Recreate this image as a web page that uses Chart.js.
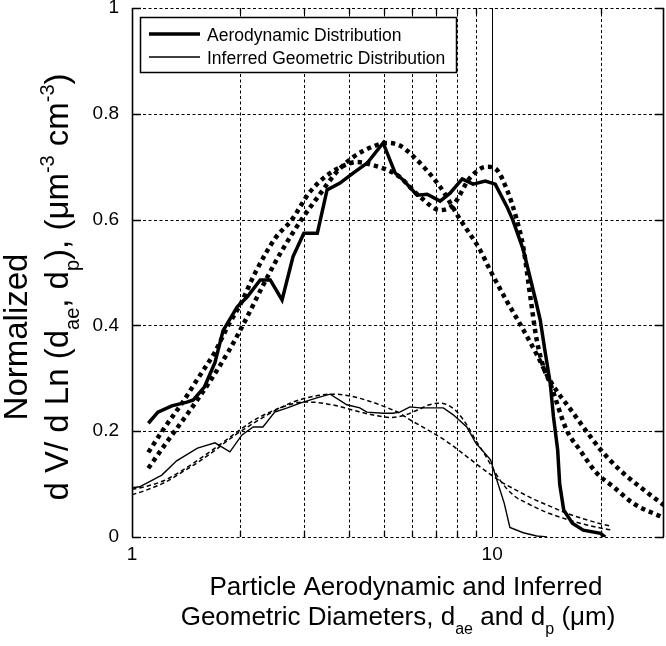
<!DOCTYPE html>
<html>
<head>
<meta charset="utf-8">
<script src="https://cdn.jsdelivr.net/npm/chart.js@4.4.1/dist/chart.umd.min.js"></script>
<style>
  html, body { margin: 0; padding: 0; background: #fff; }
</style>
</head>
<body>
<canvas id="chart" width="666" height="646"></canvas>
<script>
// measured aerodynamic distribution (thick solid)
const aeroX = [1.11, 1.18, 1.29, 1.42, 1.48, 1.59, 1.70, 1.79, 1.96, 2.09, 2.27, 2.42, 2.61, 2.80, 3.00, 3.27, 3.48, 3.78, 4.11, 4.50, 4.98, 5.38, 5.66, 6.19, 6.60, 7.17, 7.64, 8.26, 8.85, 9.57, 10.2, 11.0, 11.4, 12.2, 13.2, 13.6, 14.0, 14.5, 14.8, 15.2, 15.4, 15.8, 16.7, 17.9, 20.0, 20.6];
const aeroY = [0.215, 0.236, 0.248, 0.255, 0.259, 0.284, 0.33, 0.39, 0.435, 0.454, 0.486, 0.486, 0.448, 0.53, 0.574, 0.574, 0.656, 0.669, 0.688, 0.707, 0.745, 0.688, 0.675, 0.646, 0.648, 0.635, 0.65, 0.677, 0.667, 0.673, 0.667, 0.624, 0.60, 0.543, 0.448, 0.41, 0.354, 0.29, 0.227, 0.165, 0.10, 0.051, 0.026, 0.013, 0.007, 0.0];

// inferred geometric distribution (thin solid)
const geoX = [1.0, 1.05, 1.21, 1.33, 1.52, 1.70, 1.87, 2.02, 2.17, 2.31, 2.49, 2.70, 2.93, 3.26, 3.55, 3.95, 4.29, 4.49, 4.98, 5.30, 5.54, 5.91, 6.31, 7.32, 7.80, 8.50, 9.00, 9.90, 10.3, 10.8, 11.2, 12.2, 13.3, 14.2];
const geoY = [0.093, 0.095, 0.117, 0.144, 0.168, 0.178, 0.161, 0.193, 0.208, 0.208, 0.236, 0.244, 0.253, 0.263, 0.270, 0.250, 0.244, 0.236, 0.234, 0.234, 0.236, 0.246, 0.244, 0.244, 0.231, 0.208, 0.178, 0.146, 0.108, 0.064, 0.018, 0.008, 0.002, 0.0];

// aerodynamic fits (thick dotted): single mode and bimodal
const aeroFit1X = [1.11, 1.26, 1.43, 1.63, 1.85, 2.03, 2.37, 2.6, 2.99, 3.3, 3.7, 4.11, 4.66, 5.1, 5.54, 6.03, 7.17, 8.15, 9.25, 9.86, 11.0, 11.9, 13.3, 14.5, 16.8, 18.4, 20.0, 22.6, 25.7, 30.0];
const aeroFit1Y = [0.13, 0.183, 0.234, 0.29, 0.35, 0.40, 0.49, 0.54, 0.605, 0.645, 0.69, 0.718, 0.738, 0.745, 0.74, 0.72, 0.662, 0.60, 0.543, 0.505, 0.445, 0.405, 0.345, 0.295, 0.234, 0.197, 0.165, 0.127, 0.095, 0.06];
const aeroFit2X = [1.11, 1.235, 1.377, 1.525, 1.70, 1.85, 2.0, 2.2, 2.5, 2.78, 3.1, 3.5, 3.9, 4.2, 4.66, 5.45, 6.31, 7.17, 7.8, 8.7, 9.7, 10.3, 11.0, 11.7, 12.2, 12.8, 13.3, 13.9, 14.5, 16.1, 17.5, 19.5, 21.7, 24.6, 30.0];
const aeroFit2Y = [0.16, 0.208, 0.253, 0.30, 0.35, 0.40, 0.44, 0.50, 0.565, 0.60, 0.65, 0.685, 0.703, 0.709, 0.703, 0.684, 0.643, 0.618, 0.628, 0.68, 0.70, 0.694, 0.656, 0.60, 0.548, 0.448, 0.372, 0.32, 0.29, 0.202, 0.165, 0.121, 0.095, 0.064, 0.036];

// geometric fits (thin dashed): single mode and bimodal
const geoFit1X = [1.0, 1.1, 1.24, 1.38, 1.53, 1.7, 1.9, 2.15, 2.45, 2.8, 3.2, 3.6, 4.0, 4.5, 5.0, 5.5, 5.9, 6.6, 7.5, 8.5, 9.9, 10.5, 12.0, 13.0, 14.5, 16.1, 18.0, 20.0, 21.5];
const geoFit1Y = [0.08, 0.089, 0.104, 0.123, 0.142, 0.164, 0.189, 0.213, 0.236, 0.255, 0.266, 0.27, 0.267, 0.258, 0.247, 0.235, 0.222, 0.203, 0.18, 0.152, 0.118, 0.106, 0.084, 0.072, 0.058, 0.045, 0.034, 0.025, 0.02];
const geoFit2X = [1.0, 1.1, 1.24, 1.38, 1.53, 1.7, 1.9, 2.15, 2.45, 2.8, 3.0, 3.3, 3.7, 4.2, 4.8, 5.2, 5.7, 6.2, 6.7, 7.1, 7.5, 8.0, 8.5, 9.0, 9.5, 10.0, 10.5, 11.5, 12.5, 14.0, 16.0, 18.0, 20.0, 21.5];
const geoFit2Y = [0.09, 0.096, 0.108, 0.126, 0.146, 0.168, 0.192, 0.218, 0.238, 0.252, 0.255, 0.254, 0.248, 0.238, 0.229, 0.226, 0.23, 0.24, 0.25, 0.253, 0.25, 0.236, 0.212, 0.183, 0.158, 0.132, 0.108, 0.078, 0.064, 0.048, 0.034, 0.024, 0.017, 0.013];

const yTicks = [0, 0.2, 0.4, 0.6, 0.8, 1];
const xLabelTicks = [1, 10];
const xMinorGrid = [2, 3, 4, 5, 6, 7, 8, 9, 20];
const xMajorGrid = [10];

const FONT = "'Liberation Sans', Arial, Helvetica, sans-serif";

const toPoints = (xs, ys) => xs.map((x, i) => ({ x: x, y: ys[i] }));

// draws text made of normal / subscript / superscript pieces, centred on cx
const drawRich = (ctx, parts, cx, baseY, size) => {
    const fontOf = (p) => ((p.sub || p.sup) ? Math.round(size * 0.62) : size) + 'px ' + FONT;
    const widths = parts.map(p => { ctx.font = fontOf(p); return ctx.measureText(p.t).width; });
    let x = cx - widths.reduce((a, b) => a + b, 0) / 2;
    ctx.textAlign = 'left';
    ctx.textBaseline = 'alphabetic';
    parts.forEach((p, i) => {
        ctx.font = fontOf(p);
        const dy = p.sub ? size * 0.33 : (p.sup ? -size * 0.42 : 0);
        ctx.fillText(p.t, x, baseY + dy);
        x += widths[i];
    });
}

const gridPlugin = {
    id: 'gridPlugin',
    beforeDatasetsDraw(chart) {
        const { ctx, chartArea: a, scales: { x, y } } = chart;
        ctx.save();
        ctx.strokeStyle = '#000';
        ctx.lineWidth = 1;
        ctx.setLineDash([3, 2.5]);
        yTicks.forEach(v => {
            const py = Math.round(y.getPixelForValue(v)) + 0.5;
            ctx.beginPath(); ctx.moveTo(a.left, py); ctx.lineTo(a.right, py); ctx.stroke();
        });
        xMinorGrid.forEach(v => {
            const px = Math.round(x.getPixelForValue(v)) + 0.5;
            ctx.beginPath(); ctx.moveTo(px, a.top); ctx.lineTo(px, a.bottom); ctx.stroke();
        });
        ctx.setLineDash([]);
        xMajorGrid.forEach(v => {
            const px = Math.round(x.getPixelForValue(v)) + 0.5;
            ctx.beginPath(); ctx.moveTo(px, a.top); ctx.lineTo(px, a.bottom); ctx.stroke();
        });
        ctx.restore();
    },
    afterDatasetsDraw(chart) {
        const { ctx, chartArea: a, scales: { x, y } } = chart;
        ctx.save();
        ctx.strokeStyle = '#000';
        ctx.lineWidth = 1.3;
        // inner tick marks
        yTicks.forEach(v => {
            const py = Math.round(y.getPixelForValue(v)) + 0.5;
            ctx.beginPath();
            ctx.moveTo(a.left, py); ctx.lineTo(a.left + 9, py);
            ctx.moveTo(a.right, py); ctx.lineTo(a.right - 9, py);
            ctx.stroke();
        });
        xMinorGrid.forEach(v => {
            const px = Math.round(x.getPixelForValue(v)) + 0.5;
            ctx.beginPath();
            ctx.moveTo(px, a.top); ctx.lineTo(px, a.top + 6);
            ctx.moveTo(px, a.bottom); ctx.lineTo(px, a.bottom - 6);
            ctx.stroke();
        });
        // left and right frame
        ctx.lineWidth = 1.6;
        ctx.beginPath();
        ctx.moveTo(a.left + 0.5, a.top); ctx.lineTo(a.left + 0.5, a.bottom);
        ctx.moveTo(a.right - 0.5, a.top); ctx.lineTo(a.right - 0.5, a.bottom);
        ctx.stroke();
        ctx.restore();
    },
    afterDraw(chart) {
        const ctx = chart.ctx;
        ctx.save();
        ctx.fillStyle = '#000';
        ctx.strokeStyle = '#000';

        // legend
        ctx.fillStyle = '#fff';
        ctx.fillRect(140, 17, 317, 56);
        ctx.lineWidth = 1.5;
        ctx.strokeRect(140.5, 17.5, 316, 55);
        ctx.lineWidth = 3.5;
        ctx.beginPath(); ctx.moveTo(149, 34); ctx.lineTo(200, 34); ctx.stroke();
        ctx.lineWidth = 1.4;
        ctx.beginPath(); ctx.moveTo(149, 57); ctx.lineTo(200, 57); ctx.stroke();
        ctx.fillStyle = '#000';
        ctx.font = '17.5px ' + FONT;
        ctx.textAlign = 'left';
        ctx.textBaseline = 'alphabetic';
        ctx.fillText('Aerodynamic Distribution', 207, 41);
        ctx.fillText('Inferred Geometric Distribution', 207, 63.5);

        // x axis title
        drawRich(ctx, [{ t: 'Particle Aerodynamic and Inferred' }], 406, 595, 26);
        drawRich(ctx, [
            { t: 'Geometric Diameters, d' }, { t: 'ae', sub: true },
            { t: ' and d' }, { t: 'p', sub: true }, { t: ' (\u03bcm)' }
        ], 398, 625, 26);

        // y axis title, rotated
        ctx.save();
        ctx.translate(27, 337);
        ctx.rotate(-Math.PI / 2);
        drawRich(ctx, [{ t: 'Normalized' }], 0, 0, 33);
        ctx.restore();
        ctx.save();
        ctx.translate(68, 287);
        ctx.rotate(-Math.PI / 2);
        drawRich(ctx, [
            { t: 'd V/ d Ln (d' }, { t: 'ae', sub: true }, { t: ', d' }, { t: 'p', sub: true },
            { t: '), (\u03bcm' }, { t: '-3', sup: true }, { t: ' cm' }, { t: '-3', sup: true }, { t: ')' }
        ], 0, 0, 33);
        ctx.restore();

        ctx.restore();
    }
};

const fitLine = { pointRadius: 0, borderColor: '#000', backgroundColor: '#000', fill: false, cubicInterpolationMode: 'monotone' };

new Chart(document.getElementById('chart'), {
    type: 'line',
    data: {
        datasets: [
            Object.assign({ data: toPoints(aeroFit1X, aeroFit1Y), borderWidth: 4.5, borderDash: [4.3, 4], borderCapStyle: 'butt' }, fitLine),
            Object.assign({ data: toPoints(aeroFit2X, aeroFit2Y), borderWidth: 4.5, borderDash: [4.3, 4], borderCapStyle: 'butt' }, fitLine),
            Object.assign({ data: toPoints(geoFit1X, geoFit1Y), borderWidth: 1.5, borderDash: [4.5, 3] }, fitLine),
            Object.assign({ data: toPoints(geoFit2X, geoFit2Y), borderWidth: 1.5, borderDash: [4.5, 3] }, fitLine),
            {
                label: 'Aerodynamic Distribution',
                data: toPoints(aeroX, aeroY),
                borderColor: '#000',
                borderWidth: 3.5,
                pointRadius: 0,
                tension: 0,
                fill: false
            },
            {
                label: 'Inferred Geometric Distribution',
                data: toPoints(geoX, geoY),
                borderColor: '#000',
                borderWidth: 1.4,
                pointRadius: 0,
                tension: 0,
                fill: false
            }
        ]
    },
    options: {
        responsive: false,
        animation: false,
        devicePixelRatio: 1,
        layout: { padding: { top: 8, right: 2, left: 0, bottom: 0 } },
        plugins: {
            legend: { display: false },
            tooltip: { enabled: false }
        },
        scales: {
            x: {
                type: 'logarithmic',
                min: 1,
                max: 30,
                grid: { display: false, drawTicks: false },
                border: { display: false },
                afterBuildTicks: (s) => { s.ticks = xLabelTicks.map(v => ({ value: v })); },
                afterFit: (s) => { s.height = 109; s.paddingLeft = 0; s.paddingRight = 0; },
                ticks: {
                    autoSkip: false,
                    maxRotation: 0,
                    padding: 6,
                    color: '#000',
                    font: { family: FONT, size: 19 },
                    callback: (v) => String(v)
                }
            },
            y: {
                min: 0,
                max: 1,
                grid: { display: false, drawTicks: false },
                border: { display: false },
                afterBuildTicks: (s) => { s.ticks = yTicks.map(v => ({ value: v })); },
                afterFit: (s) => { s.width = 132; s.paddingTop = 0; s.paddingBottom = 0; },
                ticks: {
                    padding: 13,
                    color: '#000',
                    font: { family: FONT, size: 19 },
                    callback: (v) => String(+v.toFixed(1))
                }
            }
        }
    },
    plugins: [gridPlugin]
});
</script>
</body>
</html>
